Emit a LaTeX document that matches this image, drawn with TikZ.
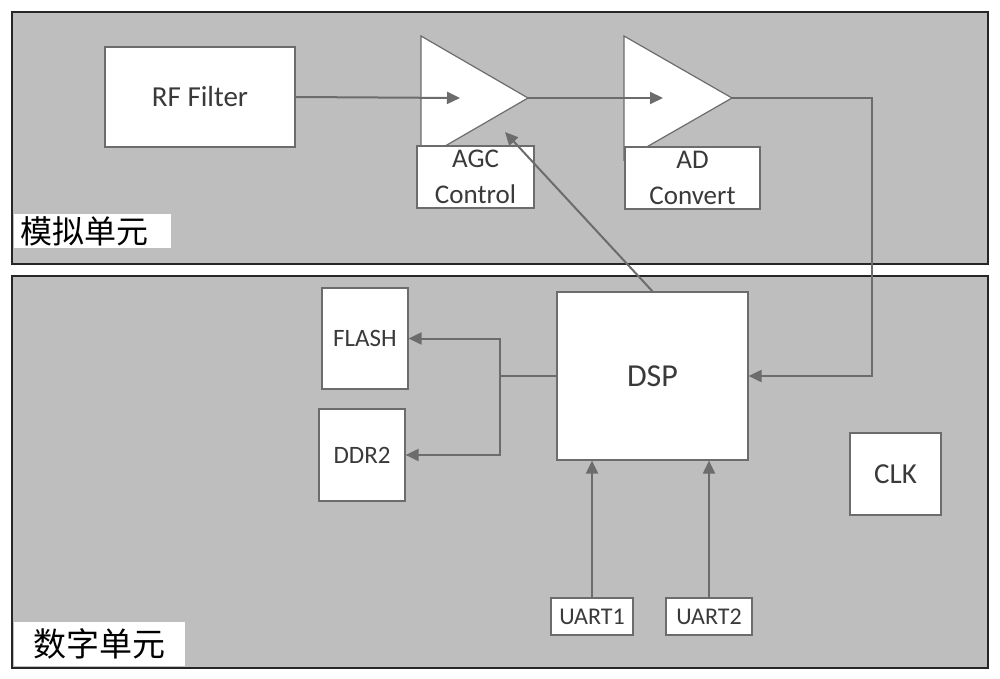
\documentclass[tikz,border=0pt]{standalone}
\usepackage{fontspec}
\setmainfont{Carlito}
\newfontfamily\cjk{Noto Sans CJK SC}
\usetikzlibrary{arrows.meta, positioning, calc}
\definecolor{PanelGray}{HTML}{BEBEBE}
\definecolor{LineGray}{HTML}{6C6C6C}
\definecolor{TextGray}{HTML}{3A3A3A}
\tikzset{
  block/.style={draw=LineGray, fill=white, line width=1.2pt, inner sep=0pt,
                text=TextGray, align=center},
  amp/.style={draw=LineGray, fill=white, line width=1.2pt, line join=miter},
  link/.style={draw=LineGray, line width=2pt, -{Triangle[length=13pt,width=12pt]}},
  unitlabel/.style={fill=white, anchor=north west, inner sep=0pt, text=black,
                    font=\cjk\fontsize{32}{36}\selectfont},
}

\begin{document}
\begin{tikzpicture}[x=1pt, y=-1pt]
    \useasboundingbox (0,0) rectangle (1000,679);

    % Analog and digital panels
    \draw[fill=PanelGray, line width=1.5pt, draw=black!85] (12,12) rectangle (988,264);
    \draw[fill=PanelGray, line width=1.5pt, draw=black!85] (12,276) rectangle (988,668);
    \node[unitlabel, minimum width=157pt, minimum height=34pt, text width=150pt]
        (analog) at (14,214) {\hspace{3pt}模拟单元};
    \node[unitlabel, minimum width=171pt, minimum height=44pt, text width=160pt,
          font=\cjk\fontsize{33}{36}\selectfont]
        (digital) at (14,622) {\hspace{14pt}数字单元};

    % Analog chain
    \node[block, minimum width=190pt, minimum height=100pt,
          font=\fontsize{29}{34}\selectfont] (rf) at (200,97) {RF Filter};
    \draw[amp] (421,36) -- (528,98) coordinate (amp1out) -- (421,160) -- cycle;
    \draw[amp] (624,36) -- (732,98) coordinate (amp2out) -- (624,160) -- cycle;
    \node[block, minimum width=117pt, minimum height=62pt,
          font=\fontsize{27}{36}\selectfont] (agc) at (475.5,177) {AGC\\Control};
    \node[block, minimum width=135pt, minimum height=62pt,
          font=\fontsize{27}{36}\selectfont] (adc) at (692.5,178) {AD\\Convert};
    \coordinate (amp1in) at (460,98);
    \coordinate (amp2in) at (663,98);
    \coordinate (agcin) at (505,132);
    \coordinate (bend) at (872,98);

    % Digital part
    \node[block, minimum width=191pt, minimum height=168pt,
          font=\fontsize{32}{36}\selectfont] (dsp) at (652.5,376) {DSP};
    \node[block, minimum width=86pt, minimum height=101pt,
          font=\fontsize{25}{28}\selectfont] (flash) at (365,338.5) {FLASH};
    \node[block, minimum width=86pt, minimum height=92pt,
          font=\fontsize{25}{28}\selectfont] (ddr) at (362,455) {DDR2};
    \node[block, minimum width=91pt, minimum height=82pt,
          font=\fontsize{29}{34}\selectfont] (clk) at (895.5,474) {CLK};
    \node[block, minimum width=82pt, minimum height=37pt,
          font=\fontsize{24}{26}\selectfont] (uart1) at (592,616.5) {UART1};
    \node[block, minimum width=86pt, minimum height=37pt,
          font=\fontsize{24}{26}\selectfont] (uart2) at (709,616.5) {UART2};
    \coordinate (split) at (500,376);

    % Connectors
    \draw[link] (rf.east) -- (amp1in);
    \draw[link] (amp1out) -- (amp2in);
    \draw[link] (amp2out) -- (bend) |- (dsp.east);
    \draw[link] (dsp.north) -- (agcin);
    \draw[draw=LineGray, line width=2pt] (dsp.west) -- (split);
    \draw[link] (split) |- (flash.east);
    \draw[link] (split) |- (ddr.east);
    \draw[link] (uart1.north) -- (uart1.north |- dsp.south);
    \draw[link] (uart2.north) -- (uart2.north |- dsp.south);
\end{tikzpicture}
\end{document}
